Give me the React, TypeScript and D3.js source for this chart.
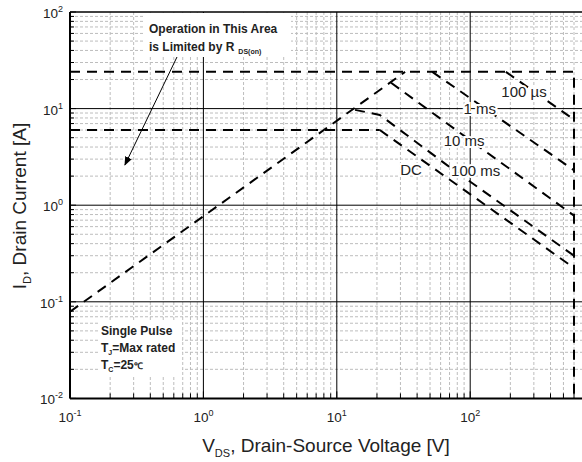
import React from "react";
import * as d3 from "d3";

const W = 582;
const H = 462;

// axis ticks
const xMajor = [0.1, 1, 10, 100];
const xMajorExp = ["-1", "0", "1", "2"];
const yMajor = [0.01, 0.1, 1, 10, 100];
const yMajorExp = ["-2", "-1", "0", "1", "2"];

// SOA curves (V, I)
const rdsV = [0.1, 32.5];
const rdsI = [0.079, 24];
const limitV = [0.1, 600, 600];
const limitI = [24, 24, 0.01];
const idV = [0.1, 21];
const idI = [6, 6];
const us100V = [185, 600];
const us100I = [24, 7.7];
const ms1V = [52, 600];
const ms1I = [24, 2.3];
const ms10V = [25.5, 600];
const ms10I = [18.5, 0.78];
const ms100V = [13.7, 21, 67, 600];
const ms100I = [9.7, 8.6, 2.6, 0.3];
const dcV = [21, 600];
const dcI = [6, 0.224];

// curve labels
const labelText = ["100 \u00b5s", "1 ms", "10 ms", "100 ms", "DC"];
const labelV = [253, 118, 90, 110, 36];
const labelI = [15.2, 10, 4.7, 2.26, 2.35];

// annotation arrow
const arrowV = [0.634, 0.258];
const arrowI = [34.2, 2.61];

const FONT = "Arial, 'Liberation Sans', Helvetica, sans-serif";

export default function App() {
  const x = d3.scaleLog().domain([0.1, 1000]).range([70, 70 + 4 * 133.4]);
  const y = d3.scaleLog().domain([0.01, 100]).range([398.4, 12]);
  const left = 70, right = 582, top = 12, bottom = 398.4;

  const xMinor: number[] = [];
  xMajor.forEach((d) => {
    for (let k = 2; k <= 9; k++) if (d * k <= 700) xMinor.push(d * k);
  });
  const yMinor: number[] = [];
  yMajor.slice(0, 4).forEach((d) => {
    for (let k = 2; k <= 9; k++) yMinor.push(d * k);
  });

  const line = d3
    .line<[number, number]>()
    .x((d) => x(d[0]))
    .y((d) => y(d[1]));
  const mk = (vs: number[], is: number[]) =>
    line(vs.map((v, i) => [v, is[i]] as [number, number])) || "";

  const curves = [
    mk(rdsV, rdsI),
    mk(limitV, limitI),
    mk(idV, idI),
    mk(us100V, us100I),
    mk(ms1V, ms1I),
    mk(ms10V, ms10I),
    mk(ms100V, ms100I),
    mk(dcV, dcI),
  ];

  return (
    <svg
      width={W}
      height={H}
      style={{ position: "absolute", left: 0, top: 0, background: "#fff" }}
      fontFamily={FONT}
    >
      <defs>
        <clipPath id="plot">
          <rect x={left} y={top} width={right - left} height={bottom - top} />
        </clipPath>
        <marker
          id="ah"
          viewBox="0 0 10 10"
          refX={9}
          refY={5}
          markerWidth={9}
          markerHeight={9}
          orient="auto"
          markerUnits="userSpaceOnUse"
        >
          <path d="M0,1 L10,5 L0,9 z" fill="#000" />
        </marker>
      </defs>
      <rect x={0} y={0} width={W} height={H} fill="#fff" />
      <g clipPath="url(#plot)">
        {xMinor.map((v) => (
          <line
            key={"xm" + v}
            x1={x(v)}
            x2={x(v)}
            y1={top}
            y2={bottom}
            stroke="#bdbdbd"
            strokeWidth={1}
            strokeDasharray="3,2"
          />
        ))}
        {yMinor.map((v) => (
          <line
            key={"ym" + v}
            x1={left}
            x2={right}
            y1={y(v)}
            y2={y(v)}
            stroke="#bdbdbd"
            strokeWidth={1}
            strokeDasharray="3,2"
          />
        ))}
        {xMajor.slice(1).map((v) => (
          <line key={"xM" + v} x1={x(v)} x2={x(v)} y1={top} y2={bottom} stroke="#000" strokeWidth={1} />
        ))}
        {yMajor.slice(1, 4).map((v) => (
          <line key={"yM" + v} x1={left} x2={right} y1={y(v)} y2={y(v)} stroke="#000" strokeWidth={1} />
        ))}
        {/* white boxes behind annotations */}
        <rect x={145} y={top + 1} width={146} height={44} fill="#fff" />
        <rect x={98} y={321} width={84} height={55} fill="#fff" />
        {curves.map((d, i) => (
          <path
            key={"c" + i}
            d={d}
            fill="none"
            stroke="#000"
            strokeWidth={2}
            strokeDasharray="10,7"
          />
        ))}
        {labelText.map((t, i) => (
          <text
            key={"l" + i}
            x={x(labelV[i])}
            y={y(labelI[i]) + 5.5}
            textAnchor="middle"
            fontSize={15}
            fill="#222"
            stroke="#fff"
            strokeWidth={4}
            paintOrder="stroke"
          >
            {t}
          </text>
        ))}
      </g>
      {/* frame */}
      <line x1={left} x2={right} y1={top} y2={top} stroke="#000" strokeWidth={1.5} />
      <line x1={left} x2={left} y1={top} y2={bottom} stroke="#000" strokeWidth={2} />
      <line x1={left} x2={right} y1={bottom} y2={bottom} stroke="#000" strokeWidth={2} />
      {/* inward ticks */}
      {yMinor.map((v) => (
        <line key={"yt" + v} x1={left} x2={left + 4} y1={y(v)} y2={y(v)} stroke="#000" strokeWidth={1} />
      ))}
      {yMajor.map((v) => (
        <line key={"yT" + v} x1={left} x2={left + 6} y1={y(v)} y2={y(v)} stroke="#000" strokeWidth={1} />
      ))}
      {xMinor.map((v) => (
        <line key={"xt" + v} x1={x(v)} x2={x(v)} y1={bottom} y2={bottom - 5} stroke="#000" strokeWidth={1} />
      ))}
      {xMajor.map((v) => (
        <line key={"xT" + v} x1={x(v)} x2={x(v)} y1={bottom} y2={bottom - 7} stroke="#000" strokeWidth={1} />
      ))}
      {/* tick labels */}
      {yMajor.map((v, i) => (
        <text key={"yl" + v} x={63} y={y(v) + 6} textAnchor="end" fontSize={13.5} fill="#222">
          10
          <tspan dy={-6} fontSize={9}>
            {yMajorExp[i]}
          </tspan>
        </text>
      ))}
      {xMajor.map((v, i) => (
        <text key={"xl" + v} x={x(v)} y={422} textAnchor="middle" fontSize={13.5} fill="#222">
          10
          <tspan dy={-6} fontSize={9}>
            {xMajorExp[i]}
          </tspan>
        </text>
      ))}
      {/* axis titles */}
      <text x={326} y={452} textAnchor="middle" fontSize={19} fill="#222">
        V
        <tspan dy={5} fontSize={11}>
          DS
        </tspan>
        <tspan dy={-5}>, Drain-Source Voltage [V]</tspan>
      </text>
      <text
        transform="translate(26,206) rotate(-90)"
        textAnchor="middle"
        fontSize={19}
        fill="#222"
      >
        I
        <tspan dy={5} fontSize={11}>
          D
        </tspan>
        <tspan dy={-5}>, Drain Current [A]</tspan>
      </text>
      {/* annotation */}
      <text x={149} y={33} fontSize={12} fontWeight="bold" fill="#222">
        Operation in This Area
      </text>
      <text x={149} y={51} fontSize={12} fontWeight="bold" fill="#222">
        is Limited by R
        <tspan dx={4} dy={3} fontSize={7}>
          DS(on)
        </tspan>
      </text>
      <line
        x1={x(arrowV[0])}
        y1={y(arrowI[0])}
        x2={x(arrowV[1])}
        y2={y(arrowI[1])}
        stroke="#000"
        strokeWidth={1}
        markerEnd="url(#ah)"
      />
      {/* legend */}
      <text x={101} y={335} fontSize={12} fontWeight="bold" fill="#222">
        Single Pulse
      </text>
      <text x={101} y={352} fontSize={12} fontWeight="bold" fill="#222">
        T
        <tspan dy={3} fontSize={7}>
          J
        </tspan>
        <tspan dy={-3}>=Max rated</tspan>
      </text>
      <text x={101} y={369} fontSize={12} fontWeight="bold" fill="#222">
        T
        <tspan dy={3} fontSize={7}>
          C
        </tspan>
        <tspan dy={-3}>=25</tspan>
        <tspan fontSize={9}>{"\u2103"}</tspan>
      </text>
    </svg>
  );
}
